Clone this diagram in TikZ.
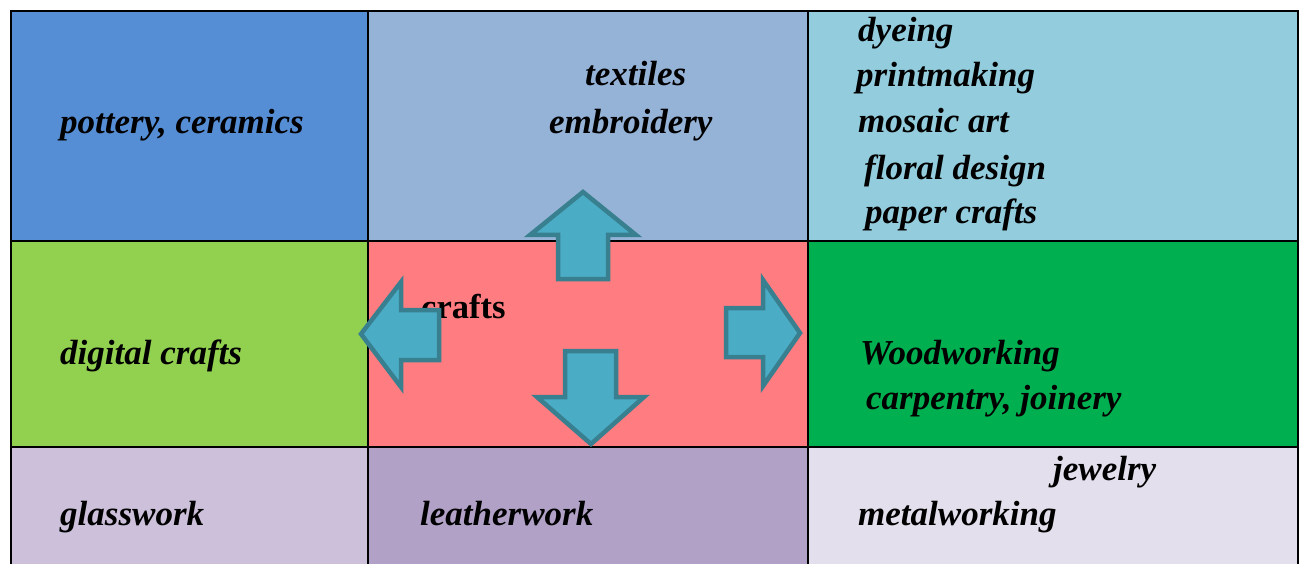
\documentclass[tikz,border=0pt]{standalone}
\usepackage{fontspec}
\setmainfont{Liberation Serif}
\definecolor{cA}{HTML}{558ED5}
\definecolor{cB}{HTML}{95B3D7}
\definecolor{cC}{HTML}{93CDDD}
\definecolor{cD}{HTML}{92D050}
\definecolor{cE}{HTML}{FF7C80}
\definecolor{cF}{HTML}{00B050}
\definecolor{cG}{HTML}{CCC0DA}
\definecolor{cH}{HTML}{B2A1C7}
\definecolor{cI}{HTML}{E4DFEC}
\definecolor{arrfill}{HTML}{4BACC6}
\definecolor{arrline}{HTML}{38808F}
\tikzset{
  cell/.style={draw=black, line width=1.8pt, rectangle, anchor=north west, inner sep=0pt},
  lbl/.style={font=\fontsize{35}{40}\selectfont\bfseries\itshape, anchor=base west, inner sep=0pt},
  ctr/.style={font=\fontsize{34.5}{40}\selectfont\bfseries, anchor=base west, inner sep=0pt},
  bigarrow/.style={fill=arrfill, draw=arrline, line width=4.5pt, line join=miter}
}
\begin{document}
\begin{tikzpicture}[x=1pt,y=-1pt]
\useasboundingbox (0,0) rectangle (1304,564);
\clip (0,0) rectangle (1304,564);
\fill[white] (0,0) rectangle (1304,564);
% cells
\node[cell, fill=cA, minimum width=357pt, minimum height=230pt] (c11) at (10,10) {};
\node[cell, fill=cB, minimum width=440pt, minimum height=230pt] (c12) at (367,10) {};
\node[cell, fill=cC, minimum width=490pt, minimum height=230pt] (c13) at (807,10) {};
\node[cell, fill=cD, minimum width=357pt, minimum height=206pt] (c21) at (10,240) {};
\node[cell, fill=cE, minimum width=440pt, minimum height=206pt] (c22) at (367,240) {};
\node[cell, fill=cF, minimum width=490pt, minimum height=206pt] (c23) at (807,240) {};
\node[cell, fill=cG, minimum width=357pt, minimum height=140pt] (c31) at (10,446) {};
\node[cell, fill=cH, minimum width=440pt, minimum height=140pt] (c32) at (367,446) {};
\node[cell, fill=cI, minimum width=490pt, minimum height=140pt] (c33) at (807,446) {};
% texts
\node[lbl] (t1) at (60,134) {pottery, ceramics};
\node[lbl] (t2) at (585,86) {textiles};
\node[lbl] (t3) at (549,134) {embroidery};
\node[lbl] (t4) at (858,42) {dyeing};
\node[lbl] (t5) at (856,87) {printmaking};
\node[lbl] (t6) at (858,133) {mosaic art};
\node[lbl] (t7) at (864,180) {floral design};
\node[lbl] (t8) at (865,224) {paper crafts};
\node[ctr] (t9) at (421,318) {crafts};
\node[lbl] (t10) at (60,364) {digital crafts};
\node[lbl] (t11) at (860,364) {Woodworking};
\node[lbl] (t12) at (866,409) {carpentry, joinery};
\node[lbl] (t13) at (60,525) {glasswork};
\node[lbl] (t14) at (420,525) {leatherwork};
\node[lbl] (t15) at (858,525) {metalworking};
\node[lbl] (t16) at (1053,480) {jewelry};
% arrows
\draw[bigarrow] (583,192) -- (636,235) -- (608,235) -- (608,279) -- (558,279) -- (558,235) -- (530,235) -- cycle;
\draw[bigarrow] (361,334) -- (401,282) -- (401,310) -- (439,310) -- (439,360) -- (401,360) -- (401,387) -- cycle;
\draw[bigarrow] (800,333) -- (763,280) -- (763,308) -- (726,308) -- (726,357) -- (763,357) -- (763,386) -- cycle;
\draw[bigarrow] (591,444) -- (644,397) -- (616,397) -- (616,351) -- (565,351) -- (565,397) -- (537,397) -- cycle;
\end{tikzpicture}
\end{document}
